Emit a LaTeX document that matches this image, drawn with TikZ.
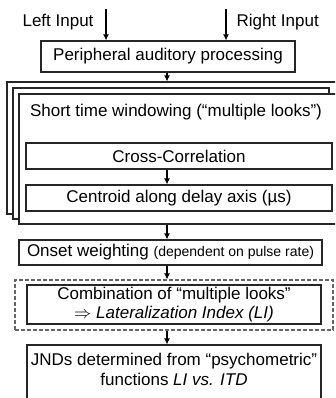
\documentclass[tikz,border=0pt]{standalone}
\usepackage{fontspec}
\setmainfont{Liberation Sans}
\usetikzlibrary{arrows.meta}
\begin{document}
\begin{tikzpicture}[x=1pt,y=-1pt,
        box/.style={draw=black!85,line width=1.1pt,fill=white,inner sep=0pt},
        flow/.style={-{Latex[length=6pt,width=6pt]},line width=1.6pt},
        every node/.style={font=\fontsize{17}{19.5}\selectfont}]
        \useasboundingbox (0,0) rectangle (335,398);
        \clip (0,0) rectangle (335,398);
        % ingressi
        \node[anchor=base east] (left) at (97,27) {Left Input};
        \node[anchor=base west] (right) at (233,27) {Right Input};
        \coordinate (lin) at (106,9);\coordinate (rin) at (226,9);
        \coordinate (col) at (167,0);
        \node[box,minimum width=254pt,minimum height=31pt] (peri) at (168,56.5) {Peripheral auditory processing};
        \draw[flow] (lin) -- (lin |- peri.north);\draw[flow] (rin) -- (rin |- peri.north);
        % finestre sovrapposte
        \node[box,minimum width=343pt,minimum height=132pt] (back) at (178.5,148) {};
        \node[box,minimum width=316pt,minimum height=131pt] (mid) at (171,153.5) {};
        \node[box,minimum width=331pt,minimum height=130pt] (front) at (184.5,159) {};
        \draw[flow] (peri.south -| col) -- (back.north -| col);
        \node (window) at (176,112) {Short time windowing (“multiple looks”)};
        \node[box,minimum width=306pt,minimum height=26pt] (cross) at (179,156) {Cross-Correlation};
        \node[box,minimum width=306pt,minimum height=26pt] (centroid) at (179,198) {Centroid along delay axis (µs)};
        \draw[flow] (cross.south -| col) -- (centroid.north -| col);
        % pesi e combinazione
        \node[box,minimum width=303pt,minimum height=25pt] (onset) at (170.5,252.5) {Onset weighting {\fontsize{14}{16}\selectfont(dependent on pulse rate)}};
        \draw[flow] (front.south -| col) -- (onset.north -| col);
        \node[draw=black!60,line width=1.1pt,dash pattern=on 4pt off 2pt,minimum width=318pt,minimum height=50pt] (looks) at (174,305) {};
        \node[box,minimum width=294pt,minimum height=39pt,align=center] (comb) at (174,304.5) {Combination of “multiple looks”\\$\Rightarrow$ \textit{Lateralization Index (LI)}};
        \draw[flow] (onset.south -| col) -- (looks.north -| col);
        % uscita
        \node[box,minimum width=294pt,minimum height=55pt] (jnd) at (174,372.5) {};
        \node[align=center] (jndtext) at (174,369.5) {JNDs determined from “psychometric”\\functions \textit{LI vs. ITD}};
        \draw[flow] (looks.south -| col) -- (jnd.north -| col);
    \end{tikzpicture}
\end{document}
